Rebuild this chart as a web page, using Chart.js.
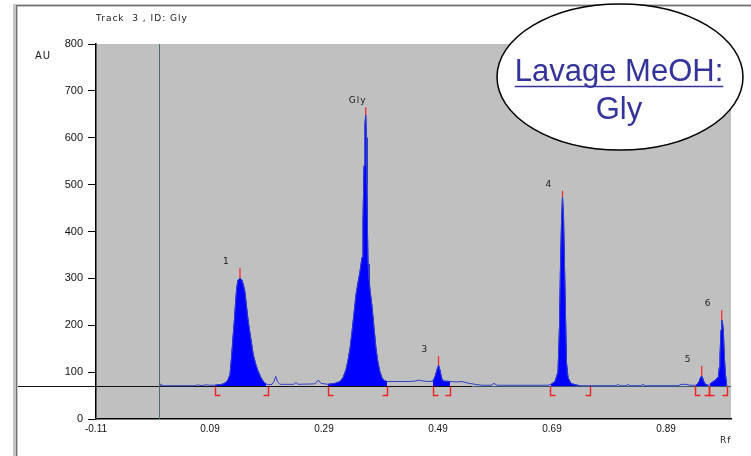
<!DOCTYPE html>
<html>
<head>
<meta charset="utf-8">
<title>Track 3, ID: Gly</title>
<script src="https://cdn.jsdelivr.net/npm/chart.js@4.4.1/dist/chart.umd.min.js"></script>
<style>
  html, body { margin: 0; padding: 0; background: #fff; }
</style>
</head>
<body>
<canvas id="myChart" width="751" height="456"></canvas>
<script>
// densitogram of track 3 : Rf against AU
const rf = [
  0.0023, 0.0040, 0.0058, 0.0637, 0.0689, 0.0760, 0.0830, 0.0900, 0.0988,
  0.1111, 0.1181, 0.1216, 0.1251, 0.1281, 0.1304, 0.1326, 0.1347, 0.1368, 0.1391,
  0.1426, 0.1461, 0.1488, 0.1514, 0.1540, 0.1572, 0.1611, 0.1660, 0.1707, 0.1747,
  0.1795, 0.1835, 0.1882, 0.1923, 0.1988, 0.2023, 0.2053, 0.2084, 0.2128, 0.2374,
  0.2409, 0.2444, 0.2742, 0.2800, 0.2847, 0.2970, 0.3093, 0.3181, 0.3233, 0.3286,
  0.3321, 0.3356, 0.3391, 0.3426, 0.3461, 0.3496, 0.3532, 0.3567, 0.3584, 0.3602,
  0.3619, 0.3632, 0.3646, 0.3654, 0.3663, 0.3672, 0.3689, 0.3707, 0.3742, 0.3777,
  0.3812, 0.3847, 0.3882, 0.3918, 0.3953, 0.4005, 0.4409, 0.4496, 0.4567, 0.4637,
  0.4760, 0.4812, 0.4847, 0.4882, 0.4909, 0.4935, 0.4961, 0.4988, 0.5111, 0.5233,
  0.5321, 0.5409, 0.5496, 0.5602, 0.5689, 0.5830, 0.5882, 0.5935, 0.6339, 0.6830,
  0.6882, 0.6953, 0.7005, 0.7032, 0.7049, 0.7067, 0.7084, 0.7102, 0.7119, 0.7137,
  0.7154, 0.7181, 0.7233, 0.7304, 0.7391, 0.8023, 0.8058, 0.8093, 0.8198, 0.8233,
  0.8268, 0.8461, 0.8496, 0.8532, 0.9111, 0.9163, 0.9251, 0.9321, 0.9426, 0.9461,
  0.9488, 0.9505, 0.9526, 0.9549, 0.9575, 0.9602, 0.9642, 0.9672, 0.9730, 0.9777,
  0.9818, 0.9835, 0.9847, 0.9865, 0.9877, 0.9891, 0.9905, 0.9923, 0.9940, 0.9965
];
const au = [
  72, 75, 71, 71, 73, 71, 73, 72, 72,
  74, 78, 84, 95, 136, 175, 207, 245, 279, 296,
  301, 296, 285, 270, 240, 207, 175, 136, 115, 101,
  88, 80, 75, 73, 74, 80, 91, 79, 74, 74,
  78, 74, 75, 83, 76, 74, 76, 80, 88, 105,
  125, 150, 185, 225, 265, 290, 315, 345, 420, 540,
  630, 648, 600, 500, 400, 330, 300, 275, 240, 195,
  150, 120, 100, 88, 82, 80, 80, 81, 83, 81,
  80, 81, 90, 105, 115, 104, 88, 81, 80, 79,
  80, 77, 75, 73, 72, 72, 76, 72, 72, 72,
  74, 80, 100, 200, 330, 420, 474, 430, 330, 220,
  120, 88, 76, 73, 71, 71, 74, 71, 71, 74,
  71, 71, 74, 71, 71, 74, 74, 72, 72, 76,
  82, 88, 92, 85, 77, 73, 72, 75, 80, 84,
  90, 110, 133, 190, 211, 205, 190, 133, 98, 72
];

const baseline = 70.4;

// detected peaks
const peakNames = ['1', 'Gly', '3', '4', '5', '6'];
const peakRf = [0.1426, 0.3632, 0.4909, 0.7084, 0.9526, 0.9877];
const peakTop = [301, 648, 115, 474, 92, 211];
const peakMark = [322, 665, 134, 487, 113, 232];
// integration windows
const winStart = [0.0988, 0.2970, 0.4812, 0.6865, 0.9405, 0.9658];
const winEnd = [0.1918, 0.4005, 0.5111, 0.7567, 0.9658, 0.9965];

const xTicks = [-0.11, 0.09, 0.29, 0.49, 0.69, 0.89];

const trace = rf.map((v, i) => ({ x: v, y: au[i] }));

const datasets = [];
// red peak markers, broken with nulls
const marks = [];
peakRf.forEach((v, i) => {
  marks.push({ x: v, y: peakTop[i] }, { x: v, y: peakMark[i] }, { x: v, y: null });
});
datasets.push({
  data: marks, borderColor: '#ff2020', borderWidth: 1.2, spanGaps: false, order: 0
});
datasets.push({
  data: trace, borderColor: '#3040c8', borderWidth: 1, fill: false, order: 1
});
// filled areas inside the integration windows
winStart.forEach((s, i) => {
  datasets.push({
    data: trace.filter(p => p.x >= s && p.x <= winEnd[i]),
    borderColor: '#0000ff', borderWidth: 1,
    backgroundColor: '#0000ff',
    fill: { value: baseline },
    order: 2
  });
});

const deco = {
  id: 'deco',
  beforeDraw(chart) {
    const { ctx, chartArea: a } = chart;
    ctx.save();
    ctx.fillStyle = '#fff';
    ctx.fillRect(0, 0, chart.width, chart.height);
    // window frame
    ctx.fillStyle = '#c4c4c4';
    ctx.fillRect(13, 4, 5, chart.height);
    ctx.fillRect(13, 4, chart.width, 3);
    ctx.fillStyle = '#707070';
    ctx.fillRect(16, 5, 1, chart.height);
    ctx.fillRect(16, 5, chart.width, 1);
    // plot background
    ctx.fillStyle = '#c0c0c0';
    ctx.fillRect(a.left, a.top, a.right - a.left, a.bottom - a.top);
    ctx.restore();
  },
  beforeDatasetsDraw(chart) {
    const { ctx, chartArea: a, scales: { x, y } } = chart;
    ctx.save();
    ctx.lineWidth = 1;
    const y0 = Math.round(y.getPixelForValue(baseline)) + 0.5;
    const xs = Math.round(x.getPixelForValue(0)) + 0.5;
    ctx.strokeStyle = '#111';
    ctx.beginPath(); ctx.moveTo(18, y0); ctx.lineTo(x.getPixelForValue(0.55), y0); ctx.stroke();
    ctx.strokeStyle = '#3c5862';
    ctx.beginPath(); ctx.moveTo(x.getPixelForValue(0.55), y0); ctx.lineTo(a.right, y0); ctx.stroke();
    ctx.strokeStyle = '#4c6a74';
    ctx.beginPath(); ctx.moveTo(xs, a.top); ctx.lineTo(xs, a.bottom); ctx.stroke();
    ctx.restore();
  },
  afterDatasetsDraw(chart) {
    const { ctx, scales: { x, y } } = chart;
    const y0 = Math.round(y.getPixelForValue(baseline)) + 0.5;
    ctx.save();
    ctx.strokeStyle = '#ee2222';
    ctx.lineWidth = 1.4;
    winStart.forEach((s, i) => {
      const xs = Math.round(x.getPixelForValue(s)) + 0.5;
      const xe = Math.round(x.getPixelForValue(winEnd[i])) + 0.5;
      ctx.beginPath();
      ctx.moveTo(xs, y0); ctx.lineTo(xs, y0 + 9); ctx.lineTo(xs + 5, y0 + 9);
      ctx.moveTo(xe, y0); ctx.lineTo(xe, y0 + 9); ctx.lineTo(xe - 5, y0 + 9);
      ctx.stroke();
    });
    ctx.fillStyle = '#1a1a1a';
    ctx.font = '9px "DejaVu Sans", sans-serif';
    ctx.letterSpacing = '1px';
    ctx.textAlign = 'left';
    ctx.textBaseline = 'alphabetic';
    peakNames.forEach((n, i) => {
      ctx.fillText(n, x.getPixelForValue(peakRf[i]) - 17, y.getPixelForValue(peakMark[i]) - 4);
    });
    ctx.restore();
  },
  afterDraw(chart) {
    const { ctx } = chart;
    ctx.save();
    ctx.fillStyle = '#1a1a1a';
    ctx.font = '9px "DejaVu Sans", sans-serif';
    ctx.letterSpacing = '1px';
    ctx.textBaseline = 'alphabetic';
    ctx.textAlign = 'left';
    ctx.fillText('Track  3 , ID: Gly', 96, 21);
    ctx.font = '10px "DejaVu Sans", sans-serif';
    ctx.fillText('AU', 35, 59);
    ctx.font = '9px "DejaVu Sans", sans-serif';
    ctx.fillText('Rf', 720, 443);
    ctx.letterSpacing = '0px';

    // callout
    ctx.beginPath();
    ctx.ellipse(620, 77, 123, 73, 0, 0, Math.PI * 2);
    ctx.fillStyle = '#fff';
    ctx.fill();
    ctx.lineWidth = 1.5;
    ctx.strokeStyle = '#000';
    ctx.stroke();
    ctx.fillStyle = '#333399';
    ctx.strokeStyle = '#333399';
    ctx.textAlign = 'center';
    ctx.font = '31px "Liberation Sans", Arial, sans-serif';
    ctx.fillText('Lavage MeOH:', 619, 81);
    const w = ctx.measureText('Lavage MeOH:').width;
    ctx.lineWidth = 1.5;
    ctx.beginPath();
    ctx.moveTo(619 - w / 2, 86.5); ctx.lineTo(619 + w / 2, 86.5);
    ctx.stroke();
    ctx.fillText('Gly', 619, 119);
    ctx.restore();
  }
};

const ctx = document.getElementById('myChart');

new Chart(ctx, {
  type: 'line',
  data: { datasets: datasets },
  options: {
    responsive: false,
    animation: false,
    layout: { padding: { left: 0, top: 44, right: 20, bottom: 0 } },
    elements: { point: { radius: 0 }, line: { tension: 0 } },
    plugins: { legend: { display: false }, tooltip: { enabled: false } },
    scales: {
      x: {
        type: 'linear',
        min: -0.11,
        max: 1.004,
        afterBuildTicks: s => { s.ticks = xTicks.map(v => ({ value: v })); },
        afterFit: s => { s.height = 37; },
        ticks: {
          callback: v => v.toFixed(2),
          font: { family: 'Liberation Sans', size: 10 },
          color: '#111',
          padding: 4,
          maxRotation: 0,
          autoSkip: false
        },
        grid: { drawOnChartArea: false, drawTicks: false, color: '#000' },
        border: { color: '#000', width: 1.5 }
      },
      y: {
        min: 0,
        max: 800,
        afterFit: s => { s.width = 96; },
        ticks: {
          stepSize: 100,
          font: { family: 'Liberation Sans', size: 11 },
          color: '#111',
          padding: 5
        },
        grid: { drawOnChartArea: false, tickLength: 8, color: '#000' },
        border: { color: '#000', width: 1.5 }
      }
    }
  },
  plugins: [deco]
});
</script>
</body>
</html>
